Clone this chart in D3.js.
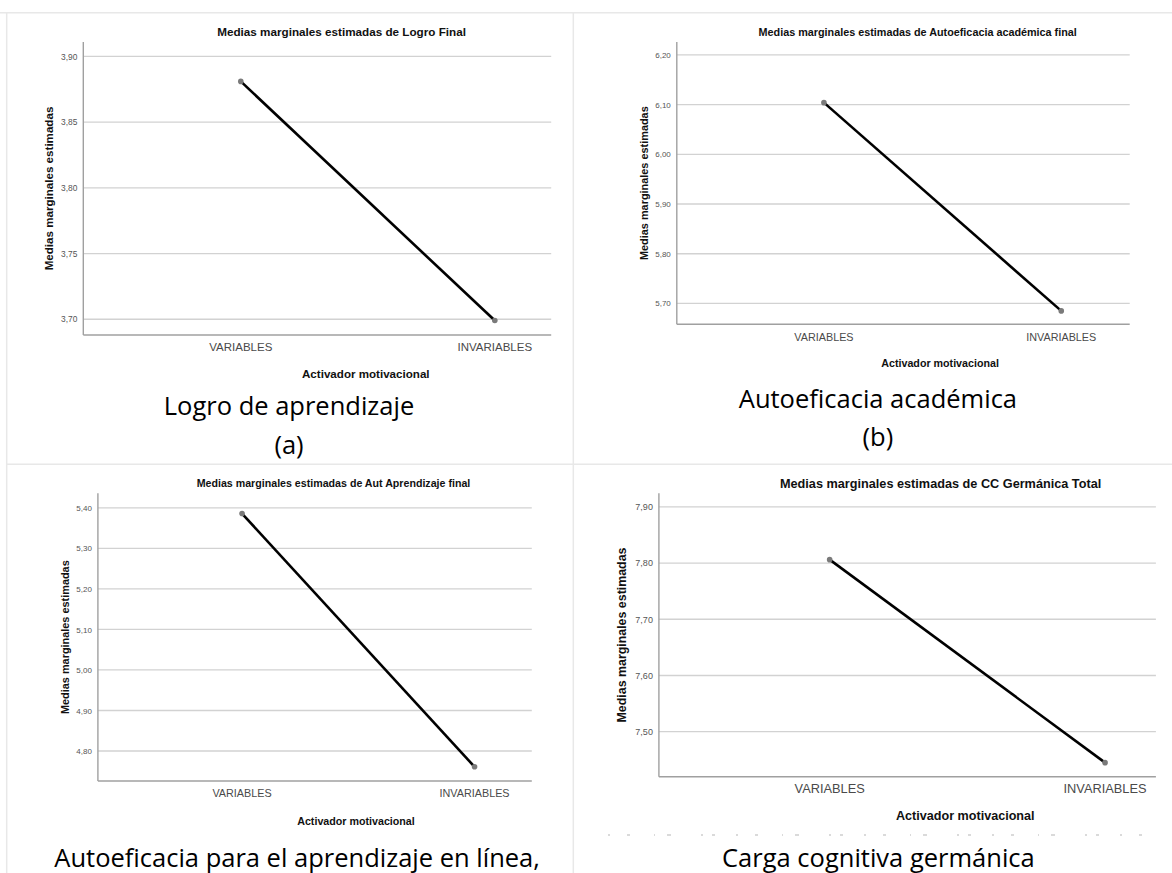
<!DOCTYPE html>
<html>
<head>
<meta charset="utf-8">
<script src="https://cdn.jsdelivr.net/npm/d3@7"></script>
<style>
  html, body { margin: 0; padding: 0; background: #fff; }
  svg { display: block; }
</style>
</head>
<body>
<svg id="fig" width="1172" height="873"></svg>
<script>
// Estimated marginal means by motivational trigger, four outcome measures
const categories = ["VARIABLES", "INVARIABLES"];

const logroFinal = [3.881, 3.699];
const autoeficaciaAcademica = [6.104, 5.685];
const autAprendizaje = [5.386, 4.761];
const ccGermanica = [7.806, 7.445];

const ticksLogro = [3.70, 3.75, 3.80, 3.85, 3.90];
const ticksAutoeficacia = [5.70, 5.80, 5.90, 6.00, 6.10, 6.20];
const ticksAprendizaje = [4.80, 4.90, 5.00, 5.10, 5.20, 5.30, 5.40];
const ticksGermanica = [7.50, 7.60, 7.70, 7.80, 7.90];

const domainLogro = [3.688, 3.911];
const domainAutoeficacia = [5.658, 6.226];
const domainAprendizaje = [4.726, 5.436];
const domainGermanica = [7.42, 7.924];

const chartTitles = [
  "Medias marginales estimadas de Logro Final",
  "Medias marginales estimadas de Autoeficacia académica final",
  "Medias marginales estimadas de Aut Aprendizaje final",
  "Medias marginales estimadas de CC Germánica Total"
];
const yAxisTitle = "Medias marginales estimadas";
const xAxisTitle = "Activador motivacional";
const captions = [
  ["Logro de aprendizaje", "(a)"],
  ["Autoeficacia académica", "(b)"],
  ["Autoeficacia para el aprendizaje en línea,"],
  ["Carga cognitiva germánica"]
];

// Panel geometry (pixels) and type sizes
const panels = [
  { values: logroFinal, ticks: ticksLogro, domain: domainLogro, step: 0.05,
    left: 83.3, gridRight: 551.2, fullW: 569, top: 42, bottom: 335,
    titleX: 341.6, titleY: 36, catY: 351, xTitleX: 365.8, xTitleY: 378,
    yTitleX: 48.3, fs: { title: 11.7, tick: 8.4, cat: 11.5, xt: 11.6, yt: 11.6 },
    capX: 289, capY: 415, capGap: 38.5 },
  { values: autoeficaciaAcademica, ticks: ticksAutoeficacia, domain: domainAutoeficacia, step: 0.1,
    left: 676.8, gridRight: 1129.7, fullW: 531.6, top: 42, bottom: 324.3,
    titleX: 917.7, titleY: 35.5, catY: 340.5, xTitleX: 940.1, xTitleY: 367.3,
    yTitleX: 643.9, fs: { title: 10.8, tick: 8, cat: 10.8, xt: 10.7, yt: 10.9 },
    capX: 877.9, capY: 407.5, capGap: 38.5 },
  { values: autAprendizaje, ticks: ticksAprendizaje, domain: domainAprendizaje, step: 0.1,
    left: 97.9, gridRight: 531.8, fullW: 520.8, top: 493.3, bottom: 781,
    titleX: 333.5, titleY: 487.3, catY: 797.3, xTitleX: 356, xTitleY: 825,
    yTitleX: 65.4, fs: { title: 10.65, tick: 8, cat: 10.8, xt: 10.7, yt: 10.9 },
    capX: 297.1, capY: 866.7, capGap: 38.5 },
  { values: ccGermanica, ticks: ticksGermanica, domain: domainGermanica, step: 0.1,
    left: 658.9, gridRight: 1155.9, fullW: 616.9, top: 493.3, bottom: 776.7,
    titleX: 940.6, titleY: 487.8, catY: 792.8, xTitleX: 965.3, xTitleY: 820.2,
    yTitleX: 621.7, fs: { title: 12.7, tick: 9, cat: 12.8, xt: 12.6, yt: 12.4 },
    capX: 878.4, capY: 867.3, capGap: 38.5 }
];

const svg = d3.select("#fig");
const sans = "'Liberation Sans', Arial, Helvetica, sans-serif";
const capFont = "'Open Sans', 'Noto Sans', sans-serif";
const fmt = v => d3.format(".2f")(v).replace(".", ",");

// Table frame around the four figures
const frame = svg.append("g").attr("stroke", "#e8e8e8").attr("stroke-width", 1.5);
frame.append("line").attr("x1", 0).attr("x2", 1172).attr("y1", 12.7).attr("y2", 12.7);
frame.append("line").attr("x1", 6.7).attr("x2", 6.7).attr("y1", 12.7).attr("y2", 873);
frame.append("line").attr("x1", 573.3).attr("x2", 573.3).attr("y1", 12.7).attr("y2", 873);
frame.append("line").attr("x1", 6.7).attr("x2", 1172).attr("y1", 464.3).attr("y2", 464.3);

panels.forEach((p, i) => {
  const g = svg.append("g");

  const y = d3.scaleLinear().domain(p.domain).range([p.bottom, p.top]);
  const x = d3.scalePoint().domain(categories)
    .range([p.left, p.left + p.fullW]).padding(0.62);

  // horizontal gridlines
  g.append("g").selectAll("line").data(p.ticks).join("line")
    .attr("x1", p.left).attr("x2", p.gridRight)
    .attr("y1", d => y(d)).attr("y2", d => y(d))
    .attr("stroke", "#d2d2d2").attr("stroke-width", 1.3);

  // y axis with comma decimals
  const yAxis = g.append("g").attr("transform", `translate(${p.left},0)`)
    .call(d3.axisLeft(y).tickValues(p.ticks).tickFormat(fmt).tickSize(0).tickPadding(6));
  yAxis.select(".domain").remove();
  yAxis.selectAll("text").attr("font-family", sans).attr("font-size", p.fs.tick)
    .attr("fill", "#555");

  // axis lines
  g.append("line").attr("x1", p.left).attr("x2", p.left)
    .attr("y1", p.top).attr("y2", p.bottom)
    .attr("stroke", "#a0a0a0").attr("stroke-width", 1.4);
  g.append("line").attr("x1", p.left).attr("x2", p.gridRight)
    .attr("y1", p.bottom).attr("y2", p.bottom)
    .attr("stroke", "#a0a0a0").attr("stroke-width", 1.4);

  // category labels
  g.append("g").selectAll("text").data(categories).join("text")
    .attr("x", d => x(d)).attr("y", p.catY)
    .attr("text-anchor", "middle").attr("font-family", sans)
    .attr("font-size", p.fs.cat).attr("fill", "#4a4a4a")
    .text(d => d);

  // titles
  g.append("text").attr("x", p.titleX).attr("y", p.titleY)
    .attr("text-anchor", "middle").attr("font-family", sans)
    .attr("font-weight", "bold").attr("font-size", p.fs.title).attr("fill", "#111")
    .text(chartTitles[i]);
  g.append("text").attr("x", p.xTitleX).attr("y", p.xTitleY)
    .attr("text-anchor", "middle").attr("font-family", sans)
    .attr("font-weight", "bold").attr("font-size", p.fs.xt).attr("fill", "#111")
    .text(xAxisTitle);
  g.append("text")
    .attr("transform", `translate(${p.yTitleX},${(p.top + p.bottom) / 2}) rotate(-90)`)
    .attr("text-anchor", "middle").attr("dominant-baseline", "central")
    .attr("font-family", sans).attr("font-weight", "bold")
    .attr("font-size", p.fs.yt).attr("fill", "#111")
    .text(yAxisTitle);

  // mean profile line and markers
  const pts = categories.map((c, k) => ({ c, v: p.values[k] }));
  g.append("path").datum(pts)
    .attr("d", d3.line().x(d => x(d.c)).y(d => y(d.v)))
    .attr("fill", "none").attr("stroke", "#000").attr("stroke-width", 2.6);
  g.append("g").selectAll("circle").data(pts).join("circle")
    .attr("cx", d => x(d.c)).attr("cy", d => y(d.v)).attr("r", 2.8)
    .attr("fill", "#7a7a7a");

  // figure caption
  g.append("g").selectAll("text").data(captions[i]).join("text")
    .attr("x", p.capX).attr("y", (d, k) => p.capY + k * p.capGap)
    .attr("text-anchor", "middle").attr("font-family", capFont)
    .attr("font-size", 25.5).attr("fill", "#000")
    .text(d => d);
});

// cut-off text row under the last figure
svg.append("line").attr("x1", 608).attr("x2", 1143).attr("y1", 835).attr("y2", 835)
  .attr("stroke", "#b5b5b5").attr("stroke-width", 1)
  .attr("stroke-dasharray", "2 17 3 24 1 12 4 30 2 9 3 21");
</script>
</body>
</html>
